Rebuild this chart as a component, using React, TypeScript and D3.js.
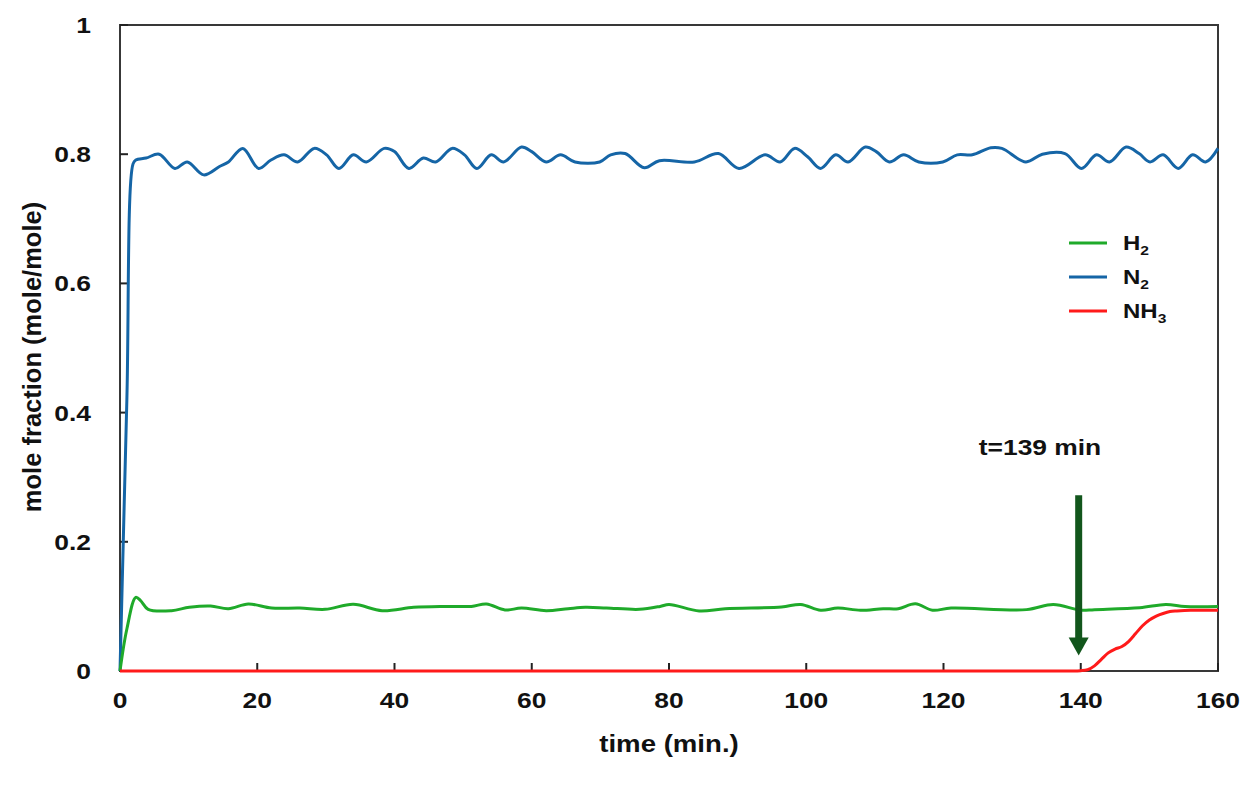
import React, { useEffect } from "react";
import * as d3 from "d3";

// ---- data ----
const xTicks = [0, 20, 40, 60, 80, 100, 120, 140, 160];
const yTicks = [0, 0.2, 0.4, 0.6, 0.8, 1];
const yTickLabels = ["0", "0.2", "0.4", "0.6", "0.8", "1"];

const n2Time = [0, 1.0, 1.9, 2.3, 3.8, 5.7, 8.0, 9.8, 12.2, 14.5, 15.8, 17.9, 20.2, 22.0, 23.9, 25.9, 28.3, 30.1, 31.9, 34.0, 35.9, 38.5, 40.0, 42.1, 44.2, 46.0, 48.4, 50.2, 52.0, 54.1, 55.9, 58.5, 60.0, 62.1, 64.2, 66.3, 69.9, 71.5, 73.6, 76.4, 78.6, 83.7, 87.2, 90.2, 94.0, 96.2, 98.3, 100.2, 102.1, 104.3, 106.1, 108.6, 110.2, 112.1, 114.2, 116.4, 119.9, 122.0, 124.2, 126.9, 128.5, 132.0, 134.4, 137.7, 140.1, 142.3, 144.2, 146.6, 148.5, 150.1, 152.0, 154.2, 156.3, 158.2, 160];
const n2Value = [0, 0.42, 0.785, 0.791, 0.794, 0.8, 0.778, 0.788, 0.768, 0.781, 0.788, 0.809, 0.778, 0.791, 0.799, 0.788, 0.809, 0.799, 0.778, 0.799, 0.788, 0.809, 0.804, 0.778, 0.794, 0.788, 0.809, 0.799, 0.778, 0.799, 0.788, 0.811, 0.804, 0.788, 0.799, 0.788, 0.788, 0.799, 0.801, 0.779, 0.79, 0.788, 0.801, 0.778, 0.799, 0.788, 0.809, 0.796, 0.778, 0.799, 0.788, 0.811, 0.804, 0.788, 0.799, 0.788, 0.788, 0.799, 0.799, 0.81, 0.809, 0.788, 0.8, 0.801, 0.778, 0.799, 0.788, 0.811, 0.801, 0.788, 0.799, 0.778, 0.799, 0.788, 0.809];

const h2Time = [0, 1.0, 2.3, 3.0, 4.1, 7.5, 10.1, 13.2, 15.8, 18.7, 22.1, 26.2, 29.9, 34.0, 38.2, 42.8, 47.1, 51.2, 53.4, 56.1, 58.5, 62.1, 65.3, 67.8, 70.9, 75.7, 78.7, 80.0, 84.4, 88.2, 96.4, 99.2, 102.1, 104.6, 107.9, 111.2, 113.4, 115.9, 118.4, 121.1, 132.1, 136.0, 140.0, 142.0, 148.6, 152.4, 155.2, 160];
const h2Value = [0, 0.065, 0.114, 0.109, 0.0955, 0.0934, 0.0986, 0.1006, 0.0965, 0.1037, 0.0975, 0.0975, 0.0955, 0.1032, 0.0934, 0.0986, 0.1, 0.1, 0.1037, 0.0944, 0.0975, 0.0934, 0.0965, 0.0986, 0.0975, 0.0955, 0.1, 0.103, 0.093, 0.0965, 0.099, 0.103, 0.094, 0.0975, 0.094, 0.0965, 0.0965, 0.104, 0.094, 0.0975, 0.095, 0.103, 0.094, 0.095, 0.098, 0.103, 0.1, 0.1];

const nh3Time = [0, 139, 140, 141, 142, 143, 144, 145, 146, 147, 148, 149, 150, 151, 152, 153, 154, 156, 160];
const nh3Value = [0, 0, 0.0005, 0.002, 0.008, 0.018, 0.028, 0.034, 0.038, 0.046, 0.058, 0.07, 0.079, 0.085, 0.089, 0.092, 0.093, 0.094, 0.094];

const seriesNames = ["H", "N", "NH"];
const seriesSubs = ["2", "2", "3"];
const seriesColors = ["#1faa2a", "#1565a6", "#ff1a1a"];

const annotationTime = 139.7;
const annotationTop = 0.272;
const annotationTip = 0.024;
const annotationText = "t=139 min";

// ---- layout ----
const W = 1251;
const H = 785;
const M = { left: 120, right: 33, top: 25, bottom: 114 };
const FONT = "'Liberation Sans', Arial, sans-serif";
const SX = 1.2; // horizontal glyph stretch seen in the reference

export default function App() {
  useEffect(() => {
    document.body.style.margin = "0";
  }, []);

  const x = d3.scaleLinear().domain([0, 160]).range([M.left, W - M.right]);
  const y = d3.scaleLinear().domain([0, 1]).range([H - M.bottom, M.top]);

  const smooth = d3
    .line<[number, number]>()
    .x((d) => x(d[0]))
    .y((d) => y(d[1]))
    .curve(d3.curveCatmullRom.alpha(0.5));
  const mono = d3
    .line<[number, number]>()
    .x((d) => x(d[0]))
    .y((d) => y(d[1]))
    .curve(d3.curveMonotoneX);

  const zip = (t: number[], v: number[]) => t.map((d, i) => [d, v[i]] as [number, number]);
  const n2 = zip(n2Time, n2Value);
  const h2 = zip(h2Time, h2Value);
  const nh3 = zip(nh3Time, nh3Value);

  const x0 = x(0);
  const x1 = x(160);
  const y0 = y(0);
  const y1 = y(1);

  const ax = x(annotationTime);
  const aTop = y(annotationTop);
  const aTip = y(annotationTip);
  const headH = 18;
  const headW = 10;

  const legendX = 1069;
  const legendY = [243, 277, 311];

  const st = (px: number, py: number) => `translate(${px},${py}) scale(${SX},1)`;

  return (
    <svg width={W} height={H} style={{ display: "block", background: "#fff" }} fontFamily={FONT}>
      {/* frame */}
      <rect x={x0} y={y1} width={x1 - x0} height={y0 - y1} fill="none" stroke="#383838" strokeWidth={2} />

      {/* ticks */}
      {xTicks.map((t) => (
        <line key={"xt" + t} x1={x(t)} x2={x(t)} y1={y0} y2={y0 - 8} stroke="#222" strokeWidth={2} />
      ))}
      {yTicks.map((t) => (
        <line key={"yt" + t} x1={x0} x2={x0 + 8} y1={y(t)} y2={y(t)} stroke="#222" strokeWidth={2} />
      ))}

      {/* tick labels */}
      {xTicks.map((t) => (
        <text key={"xl" + t} transform={st(x(t), y0 + 37)} textAnchor="middle" fontSize={22} fontWeight="bold" fill="#111">
          {t}
        </text>
      ))}
      {yTicks.map((t, i) => (
        <text key={"yl" + t} transform={st(x0 - 29, y(t) + 8)} textAnchor="end" fontSize={22} fontWeight="bold" fill="#111">
          {yTickLabels[i]}
        </text>
      ))}

      {/* axis titles */}
      <text transform={st((x0 + x1) / 2, 752)} textAnchor="middle" fontSize={23} fontWeight="bold" fill="#111">
        time (min.)
      </text>
      <text
        transform={`translate(41,357) rotate(-90)`}
        textAnchor="middle"
        fontSize={25.5}
        fontWeight="bold"
        fill="#111"
      >
        mole fraction (mole/mole)
      </text>

      {/* series */}
      <path d={smooth(n2) || ""} fill="none" stroke={seriesColors[1]} strokeWidth={3} />
      <path d={smooth(h2) || ""} fill="none" stroke={seriesColors[0]} strokeWidth={3} />
      <path d={mono(nh3) || ""} fill="none" stroke={seriesColors[2]} strokeWidth={3} />

      {/* annotation */}
      <line x1={ax} x2={ax} y1={aTop} y2={aTip - headH + 2} stroke="#12561c" strokeWidth={7} />
      <path
        d={`M${ax - headW},${aTip - headH} L${ax + headW},${aTip - headH} L${ax},${aTip} Z`}
        fill="#12561c"
      />
      <text transform={st(1040, 455)} textAnchor="middle" fontSize={22} fontWeight="bold" fill="#111">
        {annotationText}
      </text>

      {/* legend */}
      {seriesNames.map((n, i) => (
        <g key={"lg" + i}>
          <line x1={legendX} x2={legendX + 38} y1={legendY[i]} y2={legendY[i]} stroke={seriesColors[i]} strokeWidth={3} />
          <text transform={st(legendX + 54, legendY[i] + 7)} fontSize={20} fontWeight="bold" fill="#111">
            {n}
            <tspan fontSize={13} dy={5}>
              {seriesSubs[i]}
            </tspan>
          </text>
        </g>
      ))}
    </svg>
  );
}
